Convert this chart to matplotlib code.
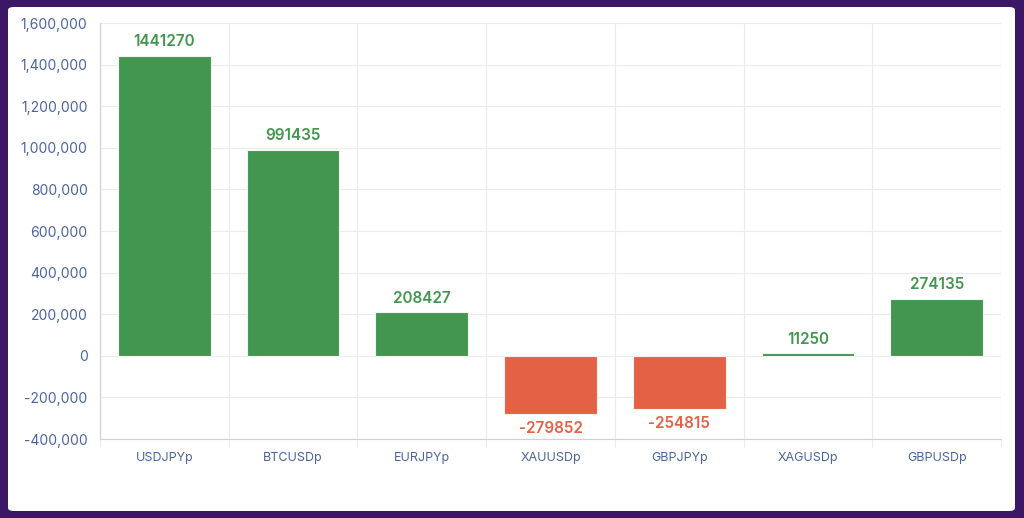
import matplotlib.pyplot as plt
from matplotlib.patches import FancyBboxPatch
from matplotlib.ticker import FuncFormatter, MultipleLocator

symbols = ["USDJPYp", "BTCUSDp", "EURJPYp", "XAUUSDp", "GBPJPYp", "XAGUSDp", "GBPUSDp"]
profits = [1441270, 991435, 208427, -279852, -254815, 11250, 274135]

green = "#43964f"
red = "#e36246"
tick_col = "#4a64a0"
grid_col = "#ebebeb"

plt.rcParams["font.family"] = ["Inter", "DejaVu Sans"]

fig = plt.figure(figsize=(10.24, 5.18), dpi=100)
fig.patch.set_facecolor("#3c1766")

# white rounded panel, drawn under the axes
panel = FancyBboxPatch((8 / 1024, 7 / 518), 1007 / 1024, 504 / 518,
                       boxstyle="round,pad=0,rounding_size=0.006",
                       transform=fig.transFigure, facecolor="white",
                       edgecolor="none", zorder=-1)
fig.patches.append(panel)

ax = fig.add_axes([100 / 1024, 1 - 439 / 518, 901 / 1024, 416 / 518])
ax.set_facecolor("white")

x = range(len(symbols))
colors = [green if v >= 0 else red for v in profits]
ax.bar(x, profits, width=0.72, color=colors, edgecolor="#f3f3f3", linewidth=0.8, zorder=3)

for i, v in enumerate(profits):
    if v >= 0:
        ax.annotate(str(v), (i, v), xytext=(0, 5), textcoords="offset points",
                    ha="center", va="bottom", fontsize=11, color=green, fontweight="semibold")
    else:
        ax.annotate(str(v), (i, v), xytext=(0, -5), textcoords="offset points",
                    ha="center", va="top", fontsize=11, color=red, fontweight="semibold")

ax.set_xlim(-0.5, len(symbols) - 0.5)
ax.set_ylim(-400000, 1600000)
ax.yaxis.set_major_locator(MultipleLocator(200000))
ax.yaxis.set_major_formatter(FuncFormatter(lambda v, p: f"{int(v):,}"))

ax.set_xticks(list(x))
ax.set_xticklabels(symbols)
ax.set_xticks([i - 0.5 for i in range(len(symbols) + 1)], minor=True)

ax.grid(axis="y", color=grid_col, linewidth=0.8, zorder=0)
ax.grid(axis="x", which="minor", color=grid_col, linewidth=0.8, zorder=0)
ax.tick_params(axis="y", length=0, labelsize=10, labelcolor=tick_col, pad=9)
ax.tick_params(axis="x", which="major", length=0, labelsize=9, labelcolor=tick_col, pad=9)
ax.tick_params(axis="x", which="minor", length=6, color=grid_col, width=0.8)

for s in ["top", "right"]:
    ax.spines[s].set_visible(False)
for s in ["left", "bottom"]:
    ax.spines[s].set_color("#d0d0d0")
    ax.spines[s].set_linewidth(0.8)

fig.savefig("out.png", dpi=100, facecolor=fig.get_facecolor())
